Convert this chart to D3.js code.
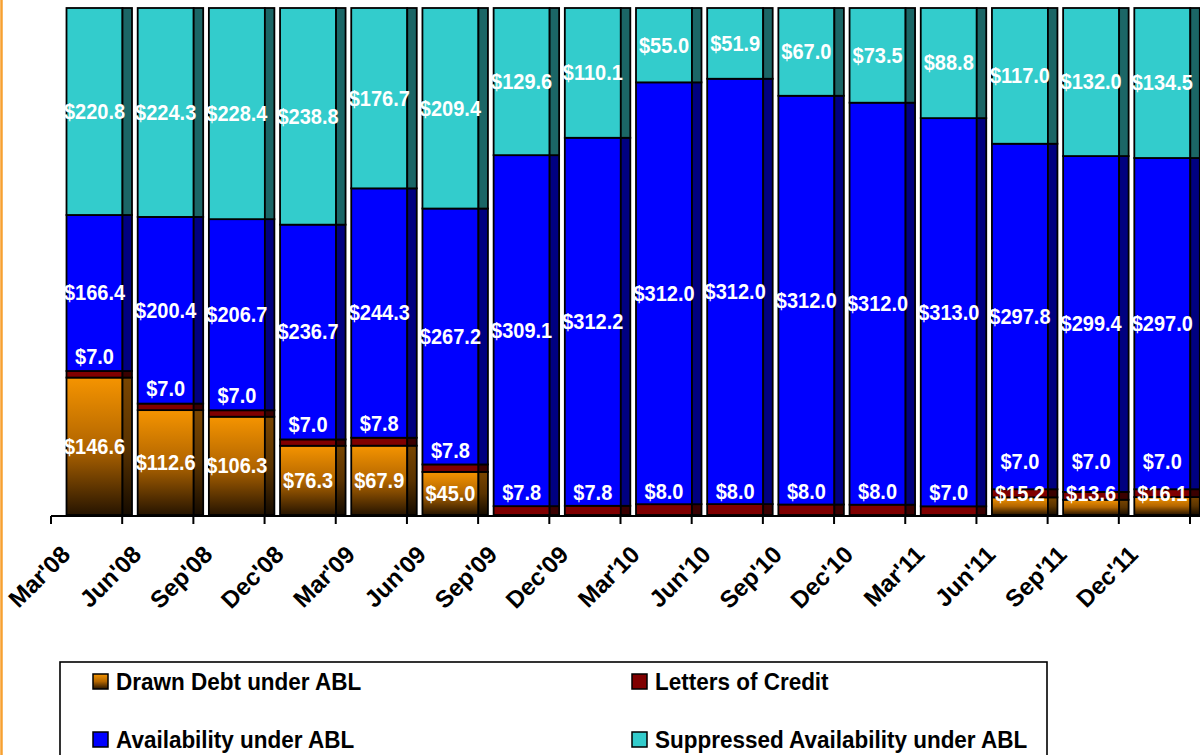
<!DOCTYPE html>
<html>
<head>
<meta charset="utf-8">
<script src="https://cdn.jsdelivr.net/npm/d3@7"></script>
<style>
  body { margin: 0; background: #fff; }
  svg { display: block; }
  text { font-family: "Liberation Sans", Arial, sans-serif; font-weight: bold; }
</style>
</head>
<body>
<svg id="chart" width="1200" height="755"></svg>
<script>
// Quarter-end ABL picture, $ millions
const quarters = ["Mar'08", "Jun'08", "Sep'08", "Dec'08", "Mar'09", "Jun'09", "Sep'09", "Dec'09",
                  "Mar'10", "Jun'10", "Sep'10", "Dec'10", "Mar'11", "Jun'11", "Sep'11", "Dec'11"];
const drawnDebt       = [146.6, 112.6, 106.3, 76.3, 67.9, 45.0, 0, 0, 0, 0, 0, 0, 0, 15.2, 13.6, 16.1];
const lettersOfCredit = [7.0, 7.0, 7.0, 7.0, 7.8, 7.8, 7.8, 7.8, 8.0, 8.0, 8.0, 8.0, 7.0, 7.0, 7.0, 7.0];
const availability    = [166.4, 200.4, 206.7, 236.7, 244.3, 267.2, 309.1, 312.2, 312.0, 312.0, 312.0, 312.0, 313.0, 297.8, 299.4, 297.0];
const suppressed      = [220.8, 224.3, 228.4, 238.8, 176.7, 209.4, 129.6, 110.1, 55.0, 51.9, 67.0, 73.5, 88.8, 117.0, 132.0, 134.5];
const seriesNames     = ["Drawn Debt under ABL", "Letters of Credit", "Availability under ABL", "Suppressed Availability under ABL"];

const keys = ["drawn", "lc", "avail", "supp"];
const rows = quarters.map((q, i) => ({
  q,
  drawn: drawnDebt[i],
  lc: lettersOfCredit[i],
  avail: availability[i],
  supp: suppressed[i]
}));

const svg = d3.select("#chart");
const defs = svg.append("defs");

function vGrad(id, stops) {
  const g = defs.append("linearGradient").attr("id", id)
    .attr("x1", 0).attr("y1", 0).attr("x2", 0).attr("y2", 1);
  stops.forEach(([o, c]) => g.append("stop").attr("offset", o).attr("stop-color", c));
}
vGrad("gDrawn", [[0, "#F59400"], [0.5, "#B36600"], [1, "#261400"]]);
vGrad("gDrawnSide", [[0, "#7A4600"], [0.5, "#5A3300"], [1, "#150B00"]]);

const frontFill = { drawn: "url(#gDrawn)", lc: "#800000", avail: "#0000FF", supp: "#33CCCC" };
const sideFill  = { drawn: "url(#gDrawnSide)", lc: "#3A0000", avail: "#000080", supp: "#1B6666" };

// slide accent line on the left edge
svg.append("line").attr("x1", 1.5).attr("x2", 1.5).attr("y1", 0).attr("y2", 755)
  .attr("stroke", "#F7A030").attr("stroke-width", 2.5);

// 100% stacked columns
const stacked = d3.stack().keys(keys).offset(d3.stackOffsetExpand)(rows);

const x = d3.scaleBand().domain(quarters).range([51, 1190]).paddingInner(0).paddingOuter(0);
const y = d3.scaleLinear().domain([0, 1]).range([515, 8]);
const bw = x.bandwidth();
const frontOff = 15.5, frontW = 56, sideW = 9.5;

const layers = svg.append("g").selectAll("g.layer").data(stacked).join("g").attr("class", "layer");

layers.selectAll("rect.front").data(d => d.map(s => ({ key: d.key, s })))
  .join("rect").attr("class", "front")
  .attr("x", d => x(d.s.data.q) + frontOff)
  .attr("width", frontW)
  .attr("y", d => y(d.s[1]))
  .attr("height", d => Math.max(0, y(d.s[0]) - y(d.s[1])))
  .attr("fill", d => frontFill[d.key])
  .attr("stroke", "#000").attr("stroke-width", 1.8)
  .attr("display", d => d.s[1] - d.s[0] > 0 ? null : "none");

layers.selectAll("rect.side").data(d => d.map(s => ({ key: d.key, s })))
  .join("rect").attr("class", "side")
  .attr("x", d => x(d.s.data.q) + frontOff + frontW)
  .attr("width", sideW)
  .attr("y", d => y(d.s[1]))
  .attr("height", d => Math.max(0, y(d.s[0]) - y(d.s[1])))
  .attr("fill", d => sideFill[d.key])
  .attr("stroke", "#000").attr("stroke-width", 1.8)
  .attr("display", d => d.s[1] - d.s[0] > 0 ? null : "none");

// value labels
const fmt = v => "$" + d3.format(".1f")(v);
const labels = [];
quarters.forEach((q, i) => {
  const cx = x(q) + frontOff + frontW / 2;
  const seg = k => stacked[keys.indexOf(k)][i];
  const mid = s => (y(s[0]) + y(s[1])) / 2;
  let drawnY = null;
  if (drawnDebt[i] > 0) {
    drawnY = Math.min(mid(seg("drawn")), y(0) - 21);
    labels.push({ x: cx, y: drawnY, t: fmt(drawnDebt[i]) });
  }
  let lcY = mid(seg("lc")) - 18;
  if (drawnY !== null) lcY = Math.min(lcY, drawnY - 32);
  labels.push({ x: cx, y: lcY, t: fmt(lettersOfCredit[i]) });
  labels.push({ x: cx, y: mid(seg("avail")), t: fmt(availability[i]) });
  labels.push({ x: cx, y: mid(seg("supp")), t: fmt(suppressed[i]) });
});

svg.append("g").selectAll("text").data(labels).join("text")
  .attr("transform", d => `translate(${d.x},${d.y}) scale(1,1.06)`)
  .attr("dy", "0.35em")
  .attr("text-anchor", "middle").attr("fill", "#fff").attr("font-size", 20)
  .text(d => d.t);

// category axis
const axis = svg.append("g");
axis.append("line").attr("x1", 51).attr("x2", 1200).attr("y1", 516).attr("y2", 516)
  .attr("stroke", "#000").attr("stroke-width", 2.2);
const tickXs = quarters.map(q => x(q)).concat([x.range()[1]]);
axis.selectAll("line.tick").data(tickXs).join("line").attr("class", "tick")
  .attr("x1", d => d).attr("x2", d => d).attr("y1", 516).attr("y2", 524)
  .attr("stroke", "#000").attr("stroke-width", 2);
axis.selectAll("text").data(quarters).join("text")
  .attr("transform", q => `translate(${x(q) + bw / 2 - 15},556) rotate(-45)`)
  .attr("text-anchor", "end").attr("font-size", 24).attr("fill", "#000")
  .text(q => q);

// legend
const legend = svg.append("g");
legend.append("rect").attr("x", 60).attr("y", 662).attr("width", 987).attr("height", 130)
  .attr("fill", "none").attr("stroke", "#000").attr("stroke-width", 1.6);
const legendPos = [[93, 690], [632, 690], [93, 748], [632, 748]];
const legendFill = ["url(#gDrawn)", "#800000", "#0000FF", "#33CCCC"];
const items = legend.selectAll("g.item").data(seriesNames).join("g").attr("class", "item")
  .attr("transform", (d, i) => `translate(${legendPos[i][0]},${legendPos[i][1]})`);
items.append("rect").attr("x", 0).attr("y", -16).attr("width", 15).attr("height", 15)
  .attr("fill", (d, i) => legendFill[i]).attr("stroke", "#000").attr("stroke-width", 1.5);
items.append("text").attr("x", 23).attr("y", 0).attr("font-size", 22.5).attr("fill", "#000")
  .attr("transform", "scale(1,1.05)")
  .text(d => d);
</script>
</body>
</html>
